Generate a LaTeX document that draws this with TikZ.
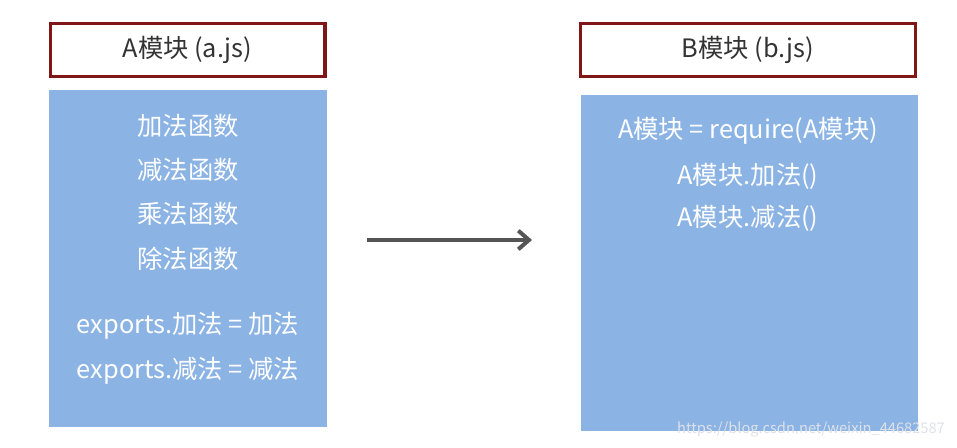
\documentclass[tikz,border=0pt]{standalone}
\usepackage{fontspec}
\setmainfont{Noto Sans CJK SC}
\usetikzlibrary{arrows.meta}
\definecolor{boxred}{RGB}{128,22,24}
\definecolor{boxblue}{RGB}{139,179,228}
\definecolor{arrgray}{RGB}{85,85,85}
\definecolor{marktext}{RGB}{222,226,232}

\begin{document}
\begin{tikzpicture}[x=0.75pt, y=-0.75pt,
	title/.style={draw=boxred, line width=2.5pt, fill=white, minimum width=206pt, minimum height=40pt, text={rgb,255:red,51;green,51;blue,51}, font=\fontsize{19}{22}\selectfont},
	body/.style={fill=boxblue, inner sep=0pt},
	line/.style={text=white, font=\fontsize{19}{22}\selectfont, inner sep=0pt}]
	\useasboundingbox (0, 0) rectangle (957, 448);
	% Module A:
	\node[title] (atitle) at (187.5, 50){A模块 (a.js)};
	\node[body, minimum width=208.5pt, minimum height=252.75pt] (abody) at (187.5, 258.5){};
	\foreach \n/\t/\y in {add/加法函数/126, sub/减法函数/170, mul/乘法函数/214, div/除法函数/259}
		\node[line] (f\n) at (188, \y){\t};
	\node[line] (expadd) at (188, 326){exports.加法 = 加法};
	\node[line] (expsub) at (188, 371){exports.减法 = 减法};
	% Module B:
	\node[title, minimum width=251pt] (btitle) at (748, 50){B模块 (b.js)};
	\node[body, minimum width=252.75pt, minimum height=252pt] (bbody) at (749, 263.5){};
	\node[line] (breq) at (748, 131){A模块 = require(A模块)};
	\node[line] (badd) at (748, 176){A模块.加法()};
	\node[line] (bsub) at (748, 218){A模块.减法()};
	% Arrow:
	\coordinate (arrfrom) at (367, 240);
	\coordinate (arrto) at (532, 240);
	\draw[arrgray, line width=3pt, -{Straight Barb[length=8pt, width=14pt, line width=3pt]}] (arrfrom) -- (arrto);
	\node[text=marktext, font=\fontsize{11}{13}\selectfont, inner sep=0pt] (mark) at (811, 429){https://blog.csdn.net/weixin\_44682587};
\end{tikzpicture}
\end{document}
